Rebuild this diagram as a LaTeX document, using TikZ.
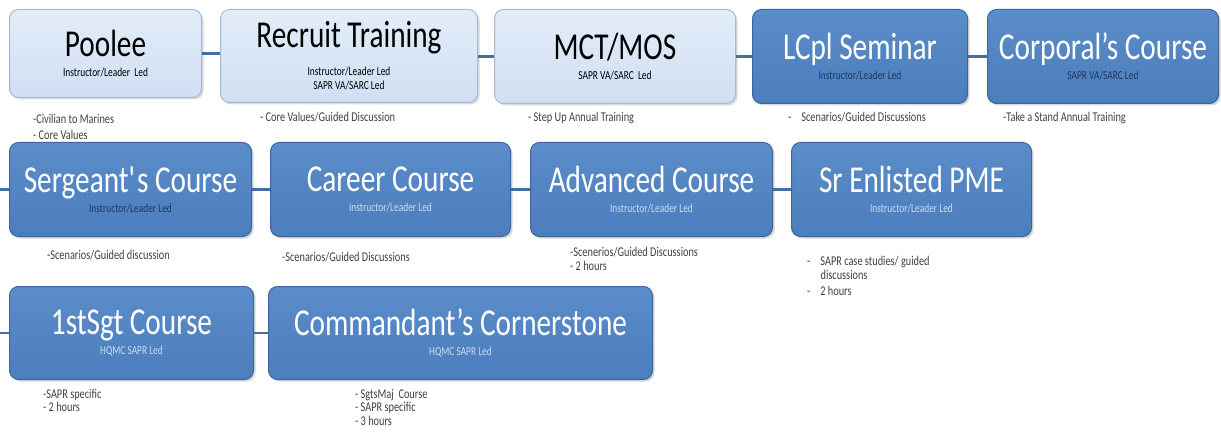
\documentclass[tikz,border=0pt]{standalone}
\usepackage{fontspec}
\setmainfont[FakeStretch=0.77]{Carlito}
\usepackage{tikz}
\usetikzlibrary{positioning}
\usetikzlibrary{shadows}
\definecolor{paletop}{rgb}	{	0.8902	,	0.9294	,	0.9765	}
\definecolor{palebottom}{rgb}	{	0.8157	,	0.8745	,	0.9529	}
\definecolor{paleedge}{rgb}	{	0.6549	,	0.7294	,	0.8196	}
\definecolor{deeptop}{rgb}	{	0.3569	,	0.5529	,	0.7922	}
\definecolor{deepbottom}{rgb}	{	0.2980	,	0.4902	,	0.7373	}
\definecolor{deepedge}{rgb}	{	0.2353	,	0.4000	,	0.6118	}
\definecolor{linkblue}{rgb}	{	0.2600	,	0.4300	,	0.6500	}
\definecolor{navy}{rgb}		{	0.1200	,	0.2200	,	0.3800	}
\definecolor{haze}{rgb}		{	0.8000	,	0.8600	,	0.9400	}
\definecolor{notegray}{rgb}	{	0.2500	,	0.2500	,	0.2500	}
\newcommand{\bigname}{\fontsize{38}{40}\selectfont}

\begin{document}
\begin{tikzpicture}[x=1pt, y=-1pt,
  box/.style={rounded corners=9pt, line width=1pt, align=center, inner sep=0pt,
    minimum height=94pt, font=\fontsize{12.2}{20}\selectfont,
    drop shadow={shadow xshift=2pt, shadow yshift=-2pt, opacity=0.3}},
  pale/.style={box, draw=paleedge, top color=paletop, bottom color=palebottom, text=black},
  deep/.style={box, draw=deepedge, top color=deeptop, bottom color=deepbottom, text=white},
  link/.style={draw=linkblue, line width=2.4pt},
  note/.style={inner sep=0pt, align=left, text=notegray, font=\fontsize{13.4}{13.5}\selectfont}]
  \useasboundingbox (0,0) rectangle (1221,433);
  \coordinate (edge) at (0,0);
  \node (pool) [pale, minimum width=192pt, minimum height=88pt, anchor=north west] at (9,9)
    {{\bigname Poolee}\\Instructor/Leader\ \ Led};
  \node (rec) [pale, minimum width=257pt, minimum height=93pt, right=18pt of pool.north east, anchor=north west]
    {{\bigname Recruit Training}\\[8pt]Instructor/Leader Led\\[-6pt]SAPR VA/SARC Led};
  \node (mct) [pale, minimum width=241pt, right=16pt of rec.north east, anchor=north west]
    {{\bigname MCT/MOS}\\SAPR VA/SARC\ \ Led};
  \node (lcpl) [deep, minimum width=215pt, right=16pt of mct.north east, anchor=north west]
    {{\bigname LCpl Seminar}\\\textcolor{navy}{Instructor/Leader Led}};
  \node (cpl) [deep, minimum width=231pt, right=19pt of lcpl.north east, anchor=north west]
    {{\bigname Corporal’s Course}\\\textcolor{navy}{SAPR VA/SARC Led}};
  \node (sgt) [deep, minimum width=242pt, below=44pt of pool.south west, anchor=north west]
    {{\bigname Sergeant\textquotesingle s Course}\\\textcolor{navy}{Instructor/Leader Led}};
  \node (car) [deep, minimum width=240pt, right=18pt of sgt.north east, anchor=north west]
    {{\bigname Career Course}\\\textcolor{haze}{Instructor/Leader Led}};
  \node (adv) [deep, minimum width=242pt, right=19pt of car.north east, anchor=north west]
    {{\bigname Advanced Course}\\\textcolor{haze}{Instructor/Leader Led}};
  \node (sr) [deep, minimum width=240pt, right=18pt of adv.north east, anchor=north west]
    {{\bigname Sr Enlisted PME}\\\textcolor{haze}{Instructor/Leader Led}};
  \node (fst) [deep, minimum width=244pt, minimum height=93pt, below=49pt of sgt.south west, anchor=north west]
    {{\bigname 1stSgt Course}\\\textcolor{haze}{HQMC SAPR Led}};
  \node (cc) [deep, minimum width=384pt, minimum height=93pt, right=14pt of fst.north east, anchor=north west]
    {{\bigname Commandant’s Cornerstone}\\\textcolor{haze}{HQMC SAPR Led}};
  \draw[link] (pool.east) -- (pool.east -| rec.west)
              (mct.west -| rec.east) -- (mct.west)
              (lcpl.west -| mct.east) -- (lcpl.west)
              (cpl.west -| lcpl.east) -- (cpl.west)
              (sgt.west -| edge) -- (sgt.west)
              (sgt.east) -- (car.west)
              (car.east) -- (adv.west)
              (adv.east) -- (sr.west)
              (fst.west -| edge) -- (fst.west)
              (fst.east) -- (cc.west);
  \node (npool) [note, below right=16pt and 24pt of pool.south west] {-Civilian to Marines\\[2pt]- Core Values};
  \node (nrec) [note, below right=9pt and 40pt of rec.south west] {- Core Values/Guided Discussion};
  \node (nmct) [note, below right=8pt and 34pt of mct.south west] {- Step Up Annual Training};
  \node (nlcpl) [note, below right=8pt and 36pt of lcpl.south west] {-\hspace{10pt}Scenarios/Guided Discussions};
  \node (ncpl) [note, below right=8pt and 16pt of cpl.south west] {-Take a Stand Annual Training};
  \node (nsgt) [note, below right=13pt and 38pt of sgt.south west] {-Scenarios/Guided discussion};
  \node (ncar) [note, below right=15pt and 12pt of car.south west] {-Scenarios/Guided Discussions};
  \node (nadv) [note, below right=10pt and 40pt of adv.south west] {-Scenerios/Guided Discussions\\- 2 hours};
  \node (nsr) [note, below right=19pt and 16pt of sr.south west]
    {-\hspace{10pt}SAPR case studies/ guided\\\hspace*{13.4pt}discussions\\[3pt]-\hspace{10pt}2 hours};
  \node (nfst) [note, below right=9pt and 34pt of fst.south west] {-SAPR specific\\- 2 hours};
  \node (ncc) [note, below right=9pt and 87pt of cc.south west] {- SgtsMaj\ \ Course\\- SAPR specific\\- 3 hours};
\end{tikzpicture}
\end{document}
